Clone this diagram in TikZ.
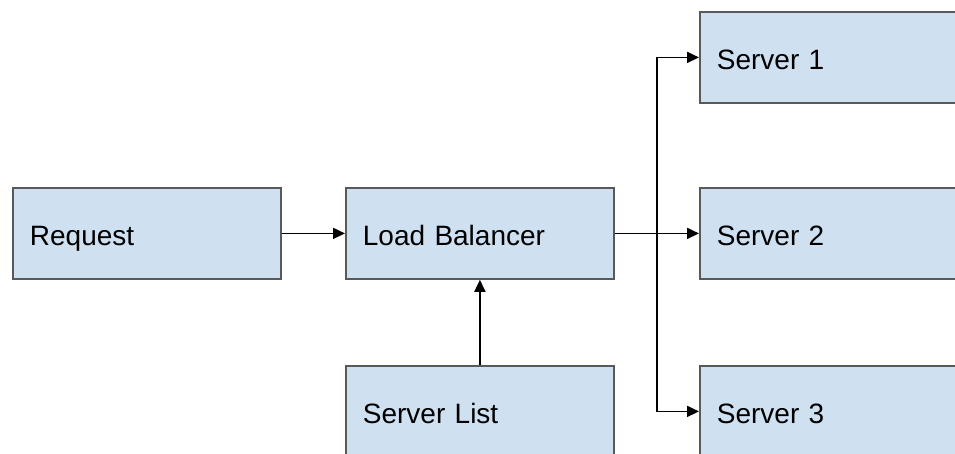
\documentclass[tikz,border=0pt]{standalone}
\usepackage{fontspec}
\setmainfont{Liberation Sans}
\usetikzlibrary{arrows.meta}

\newcommand\boxfont{\fontsize{28}{30}\selectfont\spaceskip=4pt\relax}
\tikzset{
    box/.style={draw=black!65,line width=1.8pt,fill=boxblue,rectangle,
        anchor=north west,minimum width=268pt,minimum height=91pt,
        text width=234pt,inner xsep=17pt,align=left,
        text height=24pt,text depth=0pt,font=\boxfont},
    link/.style={line width=1.8pt,-{Triangle[length=12pt,width=11pt]}}
}
\definecolor{boxblue}{HTML}{CFE0F1}

\begin{document}
\begin{tikzpicture}[x=1pt,y=-1pt]
    \useasboundingbox (0,0) rectangle (955,453);
    \clip (0,0) rectangle (955,453);
    %% Boxes
    \node[box] (request) at (12,187) {Request};
    \node[box] (balancer) at (345,187) {Load Balancer};
    \node[box] (list) at (345,365) {Server List};
    \node[box] (server1) at (699,11) {Server 1};
    \node[box] (server2) at (699,187) {Server 2};
    \node[box] (server3) at (699,365) {Server 3};
    %% Trunk
    \coordinate (fork) at (657,0);
    %% Arrows
    \draw[link] (request) -- (balancer);
    \draw[link] (list) -- (balancer);
    \draw[link] (balancer) -- (server2);
    \draw[link] (balancer.east -| fork) |- (server1.west);
    \draw[link] (balancer.east -| fork) |- (server3.west);
\end{tikzpicture}
\end{document}
